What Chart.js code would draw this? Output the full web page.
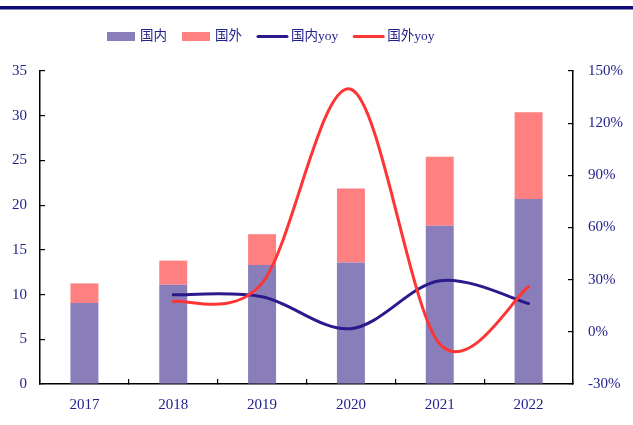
<!DOCTYPE html>
<html>
<head>
<meta charset="utf-8">
<script src="https://cdn.jsdelivr.net/npm/chart.js@4"></script>
<style>
  html, body { margin: 0; padding: 0; background: #fff; }
  #wrap { width: 633px; height: 425px; position: relative; }
</style>
</head>
<body>
<div id="wrap"><canvas id="c"></canvas></div>
<script>
// Annual values split by market, plus year-on-year growth (%)
const categories = ['2017', '2018', '2019', '2020', '2021', '2022'];
const domestic = [9.05, 11.1, 13.3, 13.6, 17.7, 20.7];
const overseas = [2.2, 2.7, 3.45, 8.25, 7.7, 9.7];
const domesticYoy = [null, 21.3, 20.2, 1.8, 29.4, 16.3];
const overseasYoy = [null, 17.5, 28, 139.5, -7, 26];
const leftTicks = { min: 0, max: 35, step: 5 };
const rightTicks = { min: -30, max: 150, step: 30 };
const legendOrder = ['国内', '国外', '国内yoy', '国外yoy'];

const NAVY = '#22228c';
const SERIF = "'Liberation Serif', 'Times New Roman', serif";
const COLORS = {
  domestic: '#897dba',
  overseas: '#ff8080',
  domesticYoy: '#2b1a8c',
  overseasYoy: '#ff3535'
};

// Top rule across the page
const topRule = {
  id: 'topRule',
  beforeDraw(chart) {
    const ctx = chart.ctx;
    ctx.save();
    ctx.fillStyle = '#0e0a78';
    ctx.fillRect(0, 6, chart.width, 3.5);
    ctx.restore();
  }
};

// Uniform Catmull-Rom control points for the smoothed growth lines
const catmullRom = {
  id: 'catmullRom',
  beforeDatasetDraw(chart, args) {
    const meta = args.meta;
    if (meta.type !== 'line') return;
    meta.dataset.updateControlPoints(chart.chartArea, 'x');
    const pts = meta.data.filter((p) => !p.skip);
    const n = pts.length;
    for (let i = 0; i < n; i++) {
      const p = pts[i];
      const prev = pts[Math.max(i - 1, 0)];
      const next = pts[Math.min(i + 1, n - 1)];
      const dx = (next.x - prev.x) / 6;
      const dy = (next.y - prev.y) / 6;
      p.cp1x = p.x - dx; p.cp1y = p.y - dy;
      p.cp2x = p.x + dx; p.cp2y = p.y + dy;
    }
  }
};

// Legend row: bars as filled boxes, lines as short strokes
const legendRow = {
  id: 'legendRow',
  afterDraw(chart) {
    const ctx = chart.ctx;
    ctx.save();
    ctx.font = "13.5px 'Liberation Serif', 'Noto Sans CJK SC', serif";
    ctx.textBaseline = 'middle';
    ctx.textAlign = 'left';
    const cy = 36.5;
    let x = 107;
    legendOrder.forEach((name) => {
      const ds = chart.data.datasets.find((d) => d.label === name);
      const isLine = ds.type === 'line';
      const w = isLine ? 31 : 28;
      if (isLine) {
        ctx.strokeStyle = ds.borderColor;
        ctx.lineWidth = 3;
        ctx.lineCap = 'round';
        ctx.beginPath();
        ctx.moveTo(x + 1, cy);
        ctx.lineTo(x + w - 1, cy);
        ctx.stroke();
      } else {
        ctx.fillStyle = ds.backgroundColor;
        ctx.fillRect(x, cy - 4.5, w, 9);
      }
      ctx.fillStyle = NAVY;
      const tx = x + w + (isLine ? 3 : 5);
      ctx.fillText(ds.label, tx, cy);
      x = tx + ctx.measureText(ds.label).width + 15;
    });
    ctx.restore();
  }
};

const tickFont = { family: SERIF, size: 15 };

new Chart(document.getElementById('c'), {
  data: {
    labels: categories,
    datasets: [
      {
        type: 'line', label: '国外yoy', data: overseasYoy, yAxisID: 'y1',
        borderColor: COLORS.overseasYoy, backgroundColor: COLORS.overseasYoy,
        borderWidth: 3, tension: 0.4, pointRadius: 0, fill: false, order: 0,
        borderCapStyle: 'round'
      },
      {
        type: 'line', label: '国内yoy', data: domesticYoy, yAxisID: 'y1',
        borderColor: COLORS.domesticYoy, backgroundColor: COLORS.domesticYoy,
        borderWidth: 3, tension: 0.4, pointRadius: 0, fill: false, order: 1,
        borderCapStyle: 'round'
      },
      {
        type: 'bar', label: '国内', data: domestic, yAxisID: 'y',
        backgroundColor: COLORS.domestic, order: 2,
        categoryPercentage: 1, barPercentage: 0.315
      },
      {
        type: 'bar', label: '国外', data: overseas, yAxisID: 'y',
        backgroundColor: COLORS.overseas, order: 3,
        categoryPercentage: 1, barPercentage: 0.315
      }
    ]
  },
  options: {
    responsive: true,
    maintainAspectRatio: false,
    animation: false,
    events: [],
    layout: { padding: { top: 71, left: 0, right: 0, bottom: 0 } },
    plugins: { legend: { display: false }, tooltip: { enabled: false } },
    scales: {
      x: {
        stacked: true,
        offset: true,
        grid: { offset: true, drawOnChartArea: false, drawTicks: true, tickLength: -5, color: '#000', lineWidth: 1.2 },
        border: { color: '#000', width: 1.5 },
        ticks: { color: NAVY, font: tickFont, padding: 17, maxRotation: 0 },
        afterFit(s) { s.height = 41; }
      },
      y: {
        stacked: true,
        position: 'left',
        min: leftTicks.min, max: leftTicks.max,
        grid: { drawOnChartArea: false, drawTicks: true, tickLength: -5, color: '#000', lineWidth: 1.2 },
        border: { color: '#000', width: 1.5 },
        ticks: { stepSize: leftTicks.step, color: NAVY, font: tickFont, padding: 18 },
        afterFit(s) { s.width = 40; }
      },
      y1: {
        stacked: false,
        position: 'right',
        min: rightTicks.min, max: rightTicks.max,
        grid: { drawOnChartArea: false, drawTicks: true, tickLength: -5, color: '#000', lineWidth: 1.2 },
        border: { color: '#000', width: 1.5 },
        ticks: { stepSize: rightTicks.step, color: NAVY, font: tickFont, padding: 20,
                 callback: (v) => v + '%' },
        afterFit(s) { s.width = 60; }
      }
    }
  },
  plugins: [topRule, catmullRom, legendRow]
});
</script>
</body>
</html>
